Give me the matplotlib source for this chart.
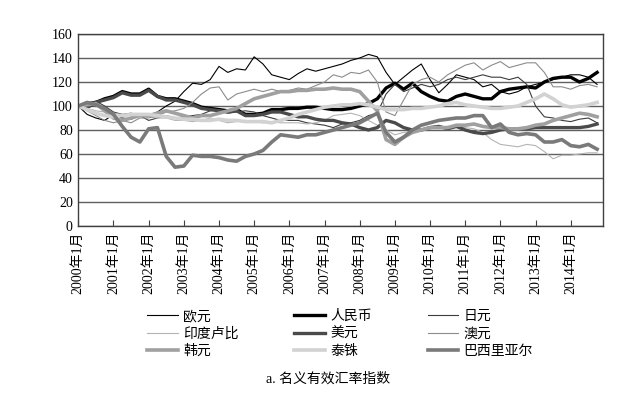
import matplotlib
matplotlib.use("Agg")
import matplotlib.pyplot as plt

# quarterly observations, month index from 2000-01
months = list(range(0, 180, 3))

eur = [100, 93, 90, 88, 93, 90, 89, 92, 92, 95, 100, 104,
       112, 119, 118, 122, 133, 128, 131, 130, 141, 135, 126, 124,
       122, 127, 131, 129, 131, 133, 135, 138, 140, 143, 141, 128,
       118, 124, 130, 135, 122, 111, 118, 126, 124, 122, 116, 118,
       112, 110, 112, 116, 118, 120, 122, 124, 126, 126, 124, 118]
cny = [100, 99, 103, 106, 108, 112, 110, 110, 114, 108, 106, 106,
       104, 102, 99, 98, 97, 96, 97, 93, 93, 94, 97, 97,
       98, 98, 99, 99, 98, 97, 97, 98, 100, 102, 106, 115,
       119, 114, 119, 112, 108, 105, 104, 108, 110, 108, 106, 106,
       112, 114, 115, 116, 115, 120, 123, 124, 124, 120, 123, 128]
jpy = [100, 103, 104, 100, 95, 93, 94, 92, 88, 90, 92, 90,
       91, 92, 93, 96, 97, 94, 95, 96, 95, 92, 90, 88,
       88, 88, 86, 85, 84, 82, 85, 86, 88, 92, 94, 110,
       118, 112, 115, 118, 116, 118, 122, 124, 122, 124, 126, 124,
       124, 122, 124, 118, 100, 91, 90, 88, 87, 89, 90, 86]
inr = [100, 98, 96, 95, 94, 93, 92, 92, 91, 90, 90, 88,
       88, 87, 88, 90, 88, 86, 87, 88, 87, 86, 87, 86,
       86, 86, 85, 86, 88, 92, 93, 94, 92, 88, 84, 80,
       76, 78, 79, 80, 81, 82, 83, 82, 82, 81, 78, 72,
       68, 67, 66, 68, 67, 62, 56, 59, 59, 60, 61, 61]
usd = [100, 99, 103, 105, 107, 111, 109, 109, 113, 108, 105, 105,
       103, 101, 98, 97, 96, 95, 96, 92, 92, 93, 95, 95,
       93, 91, 91, 89, 88, 88, 86, 85, 82, 80, 82, 88,
       86, 82, 80, 80, 82, 83, 81, 83, 80, 78, 77, 78,
       80, 81, 81, 81, 82, 82, 82, 82, 82, 82, 83, 85]
aud = [100, 96, 92, 88, 86, 88, 86, 90, 90, 92, 95, 96,
       98, 103, 110, 115, 116, 105, 110, 112, 114, 112, 114, 112,
       113, 115, 114, 117, 120, 126, 124, 128, 127, 130, 120, 95,
       92, 105, 118, 122, 124, 120, 126, 130, 134, 136, 130, 134,
       137, 132, 134, 136, 136, 128, 116, 116, 114, 117, 118, 116]
krw = [100, 101, 102, 96, 90, 88, 90, 92, 92, 94, 96, 94,
       92, 90, 92, 92, 94, 96, 98, 102, 106, 108, 110, 112,
       112, 113, 113, 114, 114, 115, 114, 114, 112, 104, 96, 72,
       68, 74, 78, 80, 82, 82, 82, 84, 84, 85, 83, 82,
       82, 81, 81, 82, 84, 85, 88, 90, 92, 94, 93, 91]
thb = [100, 97, 94, 92, 91, 92, 93, 93, 93, 92, 91, 90,
       89, 89, 88, 88, 89, 88, 88, 87, 87, 87, 86, 88,
       90, 93, 95, 97, 99, 100, 101, 101, 102, 101, 99, 97,
       97, 97, 98, 98, 99, 100, 102, 103, 101, 100, 99, 98,
       98, 99, 100, 103, 106, 110, 106, 101, 99, 100, 101, 103]
brl = [100, 103, 101, 98, 93, 83, 74, 70, 81, 82, 58, 49,
       50, 59, 58, 58, 57, 55, 54, 58, 60, 63, 70, 76,
       75, 74, 76, 76, 78, 80, 82, 84, 86, 90, 94, 78,
       70, 74, 80, 84, 86, 88, 89, 90, 90, 92, 92, 82,
       85, 78, 76, 77, 76, 70, 70, 72, 67, 66, 68, 64]

series_names = ["欧元", "人民币", "日元", "印度卢比", "美元", "澳元", "韩元", "泰铢", "巴西里亚尔"]
series_vals = [eur, cny, jpy, inr, usd, aud, krw, thb, brl]
styles = [("#000000", 0.8), ("#000000", 2.4), ("#3c3c3c", 0.8),
          ("#b4b4b4", 0.8), ("#4a4a4a", 2.4), ("#8c8c8c", 0.8),
          ("#a0a0a0", 2.6), ("#d2d2d2", 2.6), ("#7a7a7a", 2.6)]

year_ticks = list(range(0, 169, 12))
year_labels = [f"{2000 + i}年1月" for i in range(15)]
y_ticks = [0, 20, 40, 60, 80, 100, 120, 140, 160]

plt.rcParams['font.family'] = ['Liberation Serif', 'Noto Sans CJK SC']

fig = plt.figure(figsize=(6.24, 3.94), dpi=100)
ax = fig.add_axes([0.1255, 0.4264, 0.8408, 0.4873])

lines = {}
for name, vals, (c, lw) in zip(series_names, series_vals, styles):
    ln, = ax.plot(months, vals, color=c, lw=lw, label=name, solid_joinstyle='round')
    lines[name] = ln

ax.set_xlim(0, 179)
ax.set_ylim(0, 160)
ax.set_yticks(y_ticks)
ax.set_yticklabels([str(v) for v in y_ticks], fontsize=10)
ax.set_xticks(year_ticks)
ax.set_xticklabels(year_labels, rotation=90, fontsize=10)
ax.tick_params(axis='y', length=0, pad=4)
ax.tick_params(axis='x', direction='in', length=4, pad=4, color='#404040')
ax.grid(axis='y', color='#606060', lw=1.0)
ax.set_axisbelow(True)
for sp in ax.spines.values():
    sp.set_color('#404040')
    sp.set_linewidth(1.0)

order = ["欧元", "印度卢比", "韩元", "人民币", "美元", "泰铢", "日元", "澳元", "巴西里亚尔"]
leg = fig.legend([lines[n] for n in order], order, ncol=3, loc='center',
                 bbox_to_anchor=(0.545, 0.153), frameon=False,
                 prop={'family': ['Noto Sans CJK SC'], 'size': 10},
                 handlelength=2.2, columnspacing=4.0, labelspacing=0.25,
                 handletextpad=0.4)

fig.text(0.525, 0.038, "a. 名义有效汇率指数", ha='center', va='center',
         fontsize=10, family=['Liberation Serif', 'Noto Sans CJK SC'])

fig.savefig("out.png", dpi=100)
